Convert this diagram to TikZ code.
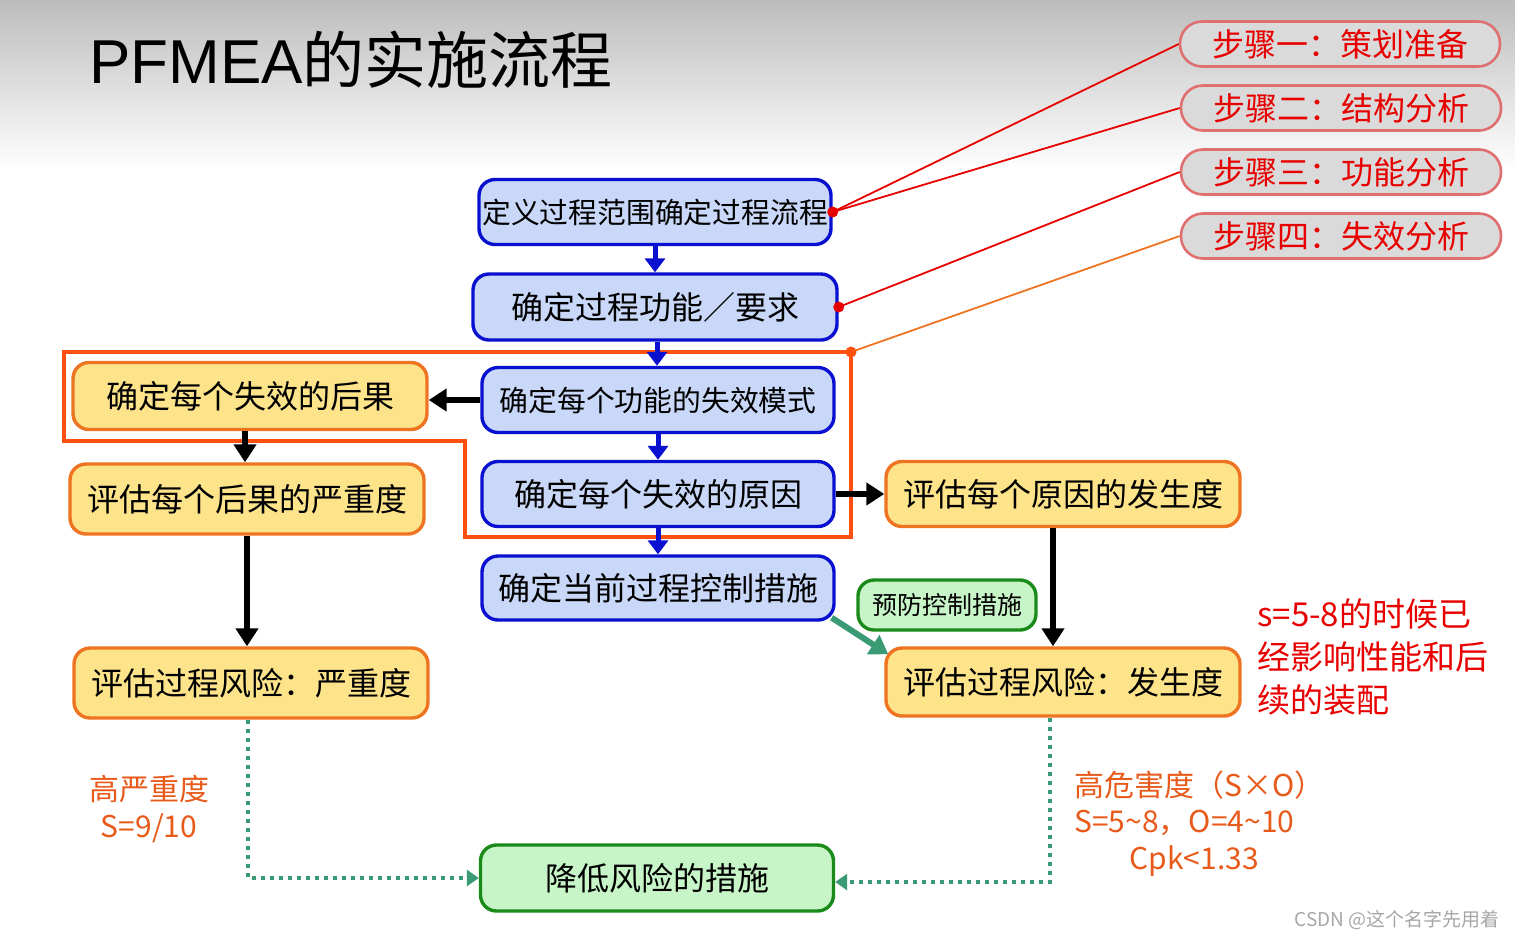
\documentclass[tikz,border=0pt]{standalone}
\usepackage{fontspec}
\setmainfont{Noto Sans CJK SC}
\newfontfamily\latinfont{Liberation Sans}
\usetikzlibrary{arrows.meta}
\definecolor{bluefill}{HTML}{C9D8F8}
\definecolor{blueline}{HTML}{0A10D0}
\definecolor{yelfill}{HTML}{FDE38A}
\definecolor{yelline}{HTML}{EE7422}
\definecolor{grnfill}{HTML}{C8F5C8}
\definecolor{grnline}{HTML}{1A8A1A}
\definecolor{stepfill}{HTML}{DADADA}
\definecolor{stepline}{HTML}{E07070}
\definecolor{framecol}{HTML}{FF5010}
\definecolor{redcol}{HTML}{E80000}
\definecolor{orgtext}{HTML}{E85A1A}
\definecolor{grnarrow}{HTML}{3A9A74}
\begin{document}
\begin{tikzpicture}[x=0.5pt,y=-0.5pt,
  box/.style={rounded corners=8pt, inner sep=0pt, line width=1.7pt, font=\fontsize{16}{18}\selectfont},
  bluebox/.style={box, draw=blueline, fill=bluefill, minimum width=176pt, minimum height=32.5pt},
  yelbox/.style={box, draw=yelline, fill=yelfill, minimum width=177pt, minimum height=34pt},
  grnbox/.style={box, draw=grnline, fill=grnfill},
  stepbox/.style={rounded corners=11pt, inner sep=0pt, draw=stepline, line width=1.3pt, fill=stepfill,
     minimum width=160pt, minimum height=22.5pt, text=redcol, font=\fontsize{16}{18}\selectfont},
  bluearrow/.style={draw=blueline, line width=2.5pt, -{Triangle[length=7pt,width=10pt]}},
  blackarrow/.style={draw=black, line width=2.8pt, -{Triangle[length=9pt,width=11pt]}},
  greenarrow/.style={draw=grnarrow, line width=3pt, -{Triangle[length=9pt,width=11pt]}},
  dotarrow/.style={draw=grnarrow, line width=2pt, dash pattern=on 2pt off 2.5pt, -{Triangle[length=6pt,width=8pt]}},
  redline/.style={draw=redcol, line width=0.9pt},
  dotmark/.style={circle, fill=redcol, inner sep=0pt, minimum size=5.5pt},
  orgtxt/.style={text=orgtext, inner sep=0pt, font=\fontsize{15}{18.3}\selectfont}
]
\useasboundingbox (0,0) rectangle (1515,939);
\fill[top color=gray!52, bottom color=white] (0,0) rectangle (1515,170);

% title
\node[anchor=west, inner sep=0pt, font=\fontsize{31}{34}\selectfont] (title) at (89,60) {{\latinfont PFMEA}的实施流程};

% step boxes
\node[stepbox] (s1) at (1340,44) {步骤一：策划准备};
\node[stepbox] (s2) at (1341,108) {步骤二：结构分析};
\node[stepbox] (s3) at (1341,172) {步骤三：功能分析};
\node[stepbox] (s4) at (1341,236) {步骤四：失效分析};

% orange frame
\draw[framecol, line width=2pt] (64,352) -- (851,352) -- (851,537) -- (465,537) -- (465,441) -- (64,441) -- cycle;
\coordinate (fc) at (851,352);

% blue boxes
\node[bluebox, font=\fontsize{14.4}{16}\selectfont] (n1) at (655,212) {定义过程范围确定过程流程};
\node[bluebox, minimum width=182pt, minimum height=33pt] (n2) at (655,307) {确定过程功能／要求};
\node[bluebox, font=\fontsize{14.4}{16}\selectfont] (n3) at (658,400) {确定每个功能的失效模式};
\node[bluebox] (n4) at (658,494) {确定每个失效的原因};
\node[bluebox, minimum height=32pt] (n5) at (658,588) {确定当前过程控制措施};

% yellow boxes
\node[yelbox, minimum height=33.5pt] (n6) at (250,396) {确定每个失效的后果};
\node[yelbox, minimum height=35pt] (n7) at (247,499) {评估每个后果的严重度};
\node[yelbox, minimum height=35pt] (n8) at (251,683) {评估过程风险：严重度};
\node[yelbox, minimum height=32.5pt] (n9) at (1063,494) {评估每个原因的发生度};
\node[yelbox] (n10) at (1063,682) {评估过程风险：发生度};

% green boxes
\node[grnbox, minimum width=89pt, minimum height=25pt, font=\fontsize{12.5}{14}\selectfont] (n11) at (947,605) {预防控制措施};
\node[grnbox, minimum width=176.5pt, minimum height=33pt] (n12) at (657,878) {降低风险的措施};

% red/orange connector lines
\draw[redline] (n1.east) -- (s1.west);
\draw[redline] (n1.east) -- (s2.west);
\draw[redline] (n2.east) -- (s3.west);
\draw[draw=yelline, line width=0.9pt] (fc) -- (s4.west);
\node[dotmark] at (n1.east) {};
\node[dotmark] at (n2.east) {};
\node[dotmark, fill=framecol] at (fc) {};

% blue arrows
\draw[bluearrow] (n1.south) -- (n1.south |- n2.north);
\draw[bluearrow] ([xshift=1pt]n2.south) -- ([xshift=1pt]n2.south |- n3.north);
\draw[bluearrow] (n3.south) -- (n3.south |- n4.north);
\draw[bluearrow] (n4.south) -- (n4.south |- n5.north);

% black arrows
\draw[blackarrow] (n3.west) -- (n3.west -| n6.east);
\draw[blackarrow] ([xshift=-2.5pt]n6.south) -- ([xshift=-2.5pt]n6.south |- n7.north);
\draw[blackarrow] (n7.south) -- (n7.south |- n8.north);
\draw[blackarrow] (n4.east) -- (n4.east -| n9.west);
\draw[blackarrow] ([xshift=-5pt]n9.south) -- ([xshift=-5pt]n9.south |- n10.north);

% green arrow
\draw[greenarrow] ([xshift=-2pt,yshift=2pt]n5.south east) -- ([xshift=2pt,yshift=-4pt]n10.north west);

% dotted arrows
\draw[dotarrow] ([xshift=-1.5pt]n8.south) |- (n12.west);
\draw[dotarrow] ([xshift=-6.5pt]n10.south) |- ([yshift=-2pt]n12.east);

% annotations
\node[orgtxt, align=center] (hs) at (149,809) {高严重度\\S=9/10};
\node[orgtxt, align=left, anchor=north west] (hr) at (1074,770) {高危害度（S×O）\\S=5\textasciitilde 8，O=4\textasciitilde 10\\\hspace*{27.5pt}Cpk<1.33};
\node[text=redcol, inner sep=0pt, align=left, anchor=north west, font=\fontsize{16.5}{21.5}\selectfont] (note) at (1257,598) {s=5-8的时候已\\经影响性能和后\\续的装配};
\node[text=gray!70, inner sep=0pt, anchor=east, font=\fontsize{9.5}{11}\selectfont] (wm) at (1500,920) {CSDN @这个名字先用着};
\end{tikzpicture}
\end{document}
